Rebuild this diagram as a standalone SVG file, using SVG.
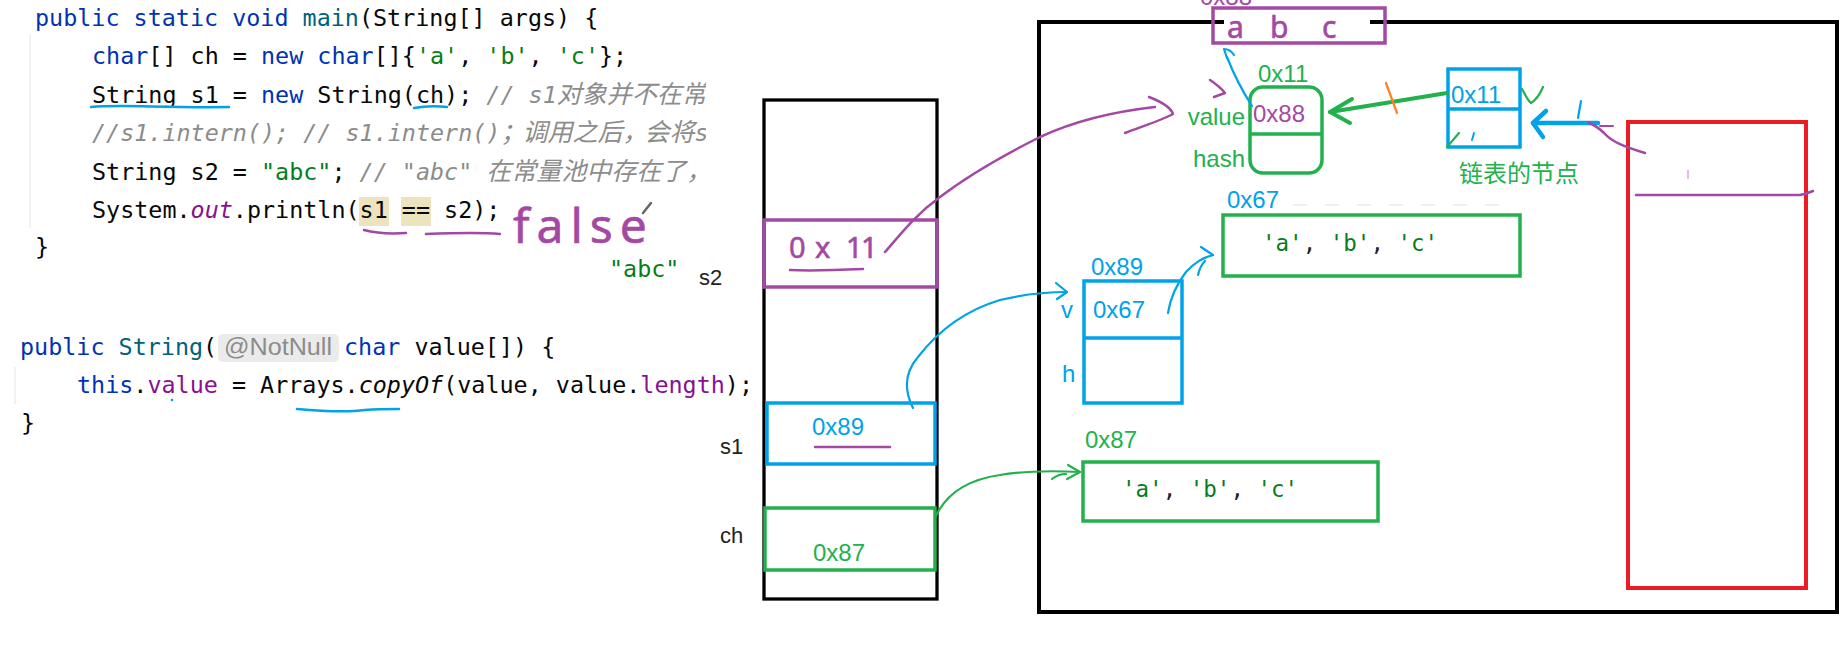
<svg xmlns="http://www.w3.org/2000/svg" width="1848" height="650" viewBox="0 0 1848 650">
  <defs>
    <clipPath id="codeClip">
      <rect x="0" y="0" width="706" height="300"/>
    </clipPath>
  </defs>
  <style>
    .code { font-family: "DejaVu Sans Mono", "Noto Sans CJK SC", monospace; font-size: 23.4px; fill: #080808; white-space: pre; }
    .cjk { font-family: "Noto Sans CJK SC", sans-serif; font-size: 25px; }
    .pn { font-family: "Noto Sans CJK SC", sans-serif; font-size: 25px; letter-spacing: -3px; }
    .kw { fill: #0033b3; }
    .fn { fill: #00627a; }
    .str { fill: #067d17; }
    .cm { fill: #8c8c8c; font-style: italic; }
    .fld { fill: #871094; }
    .sfld { fill: #871094; font-style: italic; }
    .it { font-style: italic; }
    .lbl { font-family: "Liberation Sans", "Noto Sans", sans-serif; font-size: 24px; }
    .name { font-family: "Liberation Sans", sans-serif; font-size: 22px; fill: #222; }
    .arr { font-family: "DejaVu Sans Mono", monospace; font-size: 22.5px; fill: #222; white-space: pre; }
    .hand { font-family: "Noto Sans", sans-serif; font-weight: 400; fill: #a349a4; stroke: #a349a4; stroke-width: 0.6; }
    .purple { stroke: #a349a4; }
    .blue { stroke: #00a2e8; }
    .green { stroke: #22b14c; }
    .box { fill: none; stroke-width: 3.5; }
    .ink { fill: none; stroke-linecap: round; stroke-linejoin: round; }
  </style>

  <rect width="1848" height="650" fill="#ffffff"/>

  <!-- source code: main() -->
  <g id="code-main">
    <line x1="30" y1="34" x2="30" y2="228" stroke="#eeeeee" stroke-width="1.5"/>
    <rect x="359" y="197" width="30" height="29" fill="#ede3bd"/>
    <rect x="401" y="197" width="30" height="29" fill="#ede3bd"/>
    <g clip-path="url(#codeClip)">
      <text class="code" x="35" y="26"><tspan class="kw">public static void </tspan><tspan class="fn">main</tspan>(String[] args) {</text>
      <text class="code" x="92" y="64"><tspan class="kw">char</tspan>[] ch = <tspan class="kw">new char</tspan>[]{<tspan class="str">'a'</tspan>, <tspan class="str">'b'</tspan>, <tspan class="str">'c'</tspan>};</text>
      <text class="code" x="92" y="103">String s1 = <tspan class="kw">new</tspan> String(ch); <tspan class="cm">// s1<tspan class="cjk">对象并不在常量池中</tspan></tspan></text>
      <text class="code cm" x="92" y="141">//s1.intern(); // s1.intern()<tspan class="pn">；</tspan><tspan class="cjk">调用之后</tspan><tspan class="pn">，</tspan><tspan class="cjk">会将</tspan>s1</text>
      <text class="code" x="92" y="180">String s2 = <tspan class="str">"abc"</tspan>; <tspan class="cm">// "abc" <tspan class="cjk">在常量池中存在了</tspan><tspan class="pn">，</tspan>s2</tspan></text>
      <text class="code" x="92" y="218">System.<tspan class="sfld">out</tspan>.println(s1 == s2);</text>
      <text class="code" x="35" y="255">}</text>
    </g>
    <text class="code str" x="609" y="277" font-size="22">"abc"</text>
    <!-- pen cursor -->
    <path d="M643,213 L651,203" stroke="#666" stroke-width="2.5" stroke-linecap="round"/>
  </g>

  <!-- source code: String(char[]) constructor -->
  <g id="code-ctor">
    <line x1="15" y1="367" x2="15" y2="404" stroke="#eeeeee" stroke-width="1.5"/>
    <text class="code" x="20" y="355"><tspan class="kw">public </tspan><tspan class="fn">String</tspan>(</text>
    <rect x="218" y="334" width="121" height="28" rx="5" fill="#ebebeb"/>
    <text x="224" y="355" font-family="Liberation Sans, sans-serif" font-size="23" fill="#8c8c8c" textLength="108" lengthAdjust="spacingAndGlyphs">@NotNull</text>
    <text class="code" x="344" y="355"><tspan class="kw">char</tspan> value[]) {</text>
    <text class="code" x="77" y="393"><tspan class="kw">this</tspan>.<tspan class="fld">value</tspan> = Arrays.<tspan class="it">copyOf</tspan>(value, value.<tspan class="fld">length</tspan>);</text>
    <text class="code" x="21" y="431">}</text>
  </g>

  <!-- handwritten notes on the code -->
  <g id="code-notes" class="ink" stroke-width="2.5">
    <path class="blue" d="M91,107 C120,104 160,108 229,107"/>
    <path class="blue" d="M414,108 Q430,105 447,107"/>
    <path class="blue" d="M297,409 C320,411 350,412 365,410 C378,409 390,409 399,409"/>
    <circle cx="172" cy="400" r="1.3" fill="#00a2e8" stroke="none"/>
    <path class="purple" d="M364,230 C375,233 390,234 406,233"/>
    <path class="purple" d="M426,234 C450,233 480,232 500,234"/>
    <text class="hand" x="513" y="243" font-size="48" letter-spacing="7">false</text>
  </g>

  <!-- stack frame -->
  <g id="stack">
    <rect x="764" y="100" width="173" height="499" fill="none" stroke="#000" stroke-width="3.3"/>
    <text class="name" x="699" y="285">s2</text>
    <text class="name" x="720" y="454">s1</text>
    <text class="name" x="720" y="543">ch</text>
  </g>

  <g id="slot-s2">
    <rect class="box purple" x="764" y="220" width="173" height="67"/>
    <text class="hand" y="258" font-size="29"><tspan x="789">0</tspan><tspan x="815">x</tspan><tspan x="846">1</tspan><tspan x="861">1</tspan></text>
    <path class="ink purple" stroke-width="2.5" d="M790,270 C810,271 840,270 863,269"/>
  </g>

  <g id="slot-s1">
    <rect class="box blue" x="767" y="403" width="168" height="61"/>
    <text class="lbl" x="812" y="435" fill="#00a2e8">0x89</text>
    <path class="ink purple" stroke-width="2.5" d="M815,447 L890,447"/>
  </g>

  <g id="slot-ch">
    <rect class="box green" x="765" y="508" width="170" height="62"/>
    <text class="lbl" x="813" y="561" fill="#22b14c">0x87</text>
  </g>

  <!-- heap area -->
  <g id="heap">
    <path d="M1224,22 L1039,22 L1039,612 L1837,612 L1837,22 L1370,22" fill="none" stroke="#000" stroke-width="4"/>
  </g>

  <g id="pool-abc">
    <text class="lbl" x="1200" y="5" font-size="22" fill="#a349a4">0x88</text>
    <rect class="box purple" x="1213" y="8" width="172" height="35"/>
    <text class="hand" y="38" font-size="30"><tspan x="1227">a</tspan><tspan x="1270">b</tspan><tspan x="1322">c</tspan></text>
  </g>

  <g id="string-0x11">
    <text class="lbl" x="1258" y="82" fill="#22b14c">0x11</text>
    <rect class="box green" x="1250" y="87" width="72" height="86" rx="13"/>
    <line x1="1250" y1="134" x2="1322" y2="134" stroke="#22b14c" stroke-width="3.5"/>
    <text class="lbl" x="1253" y="122" fill="#a349a4">0x88</text>
    <text class="lbl" x="1245" y="125" fill="#22b14c" text-anchor="end">value</text>
    <text class="lbl" x="1245" y="167" fill="#22b14c" text-anchor="end">hash</text>
  </g>

  <g id="list-node">
    <rect class="box blue" x="1448" y="69" width="72" height="78"/>
    <line x1="1448" y1="109" x2="1520" y2="109" stroke="#00a2e8" stroke-width="3.5"/>
    <text class="lbl" x="1451" y="103" fill="#00a2e8">0x11</text>
    <text x="1459" y="182" font-family="Noto Sans CJK SC, sans-serif" font-size="24" fill="#22b14c">链表的节点</text>
  </g>

  <g id="string-0x89">
    <text class="lbl" x="1091" y="275" fill="#00a2e8">0x89</text>
    <rect class="box blue" x="1084" y="281" width="98" height="122"/>
    <line x1="1084" y1="338" x2="1182" y2="338" stroke="#00a2e8" stroke-width="3.5"/>
    <text class="lbl" x="1093" y="318" fill="#00a2e8">0x67</text>
    <text class="lbl" x="1061" y="318" fill="#00a2e8">v</text>
    <text class="lbl" x="1062" y="382" fill="#00a2e8">h</text>
  </g>

  <g id="array-0x67">
    <text class="lbl" x="1227" y="208" fill="#00a2e8">0x67</text>
    <path d="M1293,205 H1500" stroke="#ececec" stroke-width="1.5" stroke-dasharray="14 18"/>
    <rect class="box green" x="1223" y="215" width="297" height="61"/>
    <text class="arr" x="1262" y="251"><tspan class="str">'a'</tspan>, <tspan class="str">'b'</tspan>, <tspan class="str">'c'</tspan></text>
  </g>

  <g id="array-0x87">
    <text class="lbl" x="1085" y="448" fill="#22b14c">0x87</text>
    <rect class="box green" x="1083" y="462" width="295" height="59"/>
    <text class="arr" x="1122" y="497"><tspan class="str">'a'</tspan>, <tspan class="str">'b'</tspan>, <tspan class="str">'c'</tspan></text>
  </g>

  <g id="table">
    <rect x="1628" y="122" width="178" height="466" fill="none" stroke="#ed1c24" stroke-width="4"/>
    <path class="ink purple" stroke-width="2.5" d="M1636,195 L1800,195 Q1806,194 1813,191"/>
    <path d="M1688,170 L1688,179" stroke="#dda6dd" stroke-width="1.5"/>
  </g>

  <!-- references between stack and heap -->
  <g id="connectors" class="ink">
    <!-- s2 -> value field -->
    <path class="purple" stroke-width="2.5" d="M885,252 C900,235 915,215 940,197 C965,178 1000,157 1040,137 C1070,123 1110,112 1155,107"/>
    <path class="purple" stroke-width="2.5" d="M1149,97 C1162,102 1171,108 1173,114 C1160,121 1140,127 1125,133"/>
    <path class="purple" stroke-width="2.5" d="M1210,80 C1216,84 1221,88 1225,93 L1214,97"/>
    <!-- value -> pooled chars -->
    <path class="blue" stroke-width="2.2" d="M1252,106 C1243,92 1234,75 1227,57"/>
    <path class="blue" stroke-width="2.2" d="M1227,58 L1224,49 Q1230,49 1234,55"/>
    <!-- list node -> String 0x11 -->
    <path class="green" stroke-width="4" d="M1447,93 L1330,112"/>
    <path class="green" stroke-width="4" d="M1352,99 L1330,112 L1350,123"/>
    <path stroke="#ff7f27" stroke-width="2.2" d="M1386,83 L1397,113"/>
    <path class="green" stroke-width="2.2" d="M1522,89 C1526,96 1528,101 1531,103 C1536,100 1540,94 1543,87"/>
    <path class="green" stroke-width="2.2" d="M1447,147 L1459,133"/>
    <path class="blue" stroke-width="2" d="M1474,133 L1472,140"/>
    <!-- table bucket -> list node -->
    <path class="blue" stroke-width="4.5" d="M1598,123 L1533,123"/>
    <path class="blue" stroke-width="4.5" d="M1546,111 L1533,123 L1543,137"/>
    <path class="blue" stroke-width="2.2" d="M1581,101 L1578,118"/>
    <path class="purple" stroke-width="2.5" d="M1645,153 C1625,147 1612,142 1604,133 C1599,128 1594,125 1589,123"/>
    <path class="purple" stroke-width="2" d="M1600,126 L1613,126"/>
    <!-- s1 -> String 0x89 -->
    <path class="blue" stroke-width="2.2" d="M913,408 C904,390 905,372 918,357 C935,335 960,312 1000,300 C1025,294 1050,292 1067,292"/>
    <path class="blue" stroke-width="2.2" d="M1056,283 L1067,292 L1057,299"/>
    <!-- value field -> array 0x67 -->
    <path class="blue" stroke-width="2.2" d="M1168,313 C1170,300 1176,285 1186,272 C1195,262 1205,257 1213,255"/>
    <path class="blue" stroke-width="2.2" d="M1201,247 L1213,255 M1198,275 Q1200,266 1205,261"/>
    <!-- ch -> array 0x87 -->
    <path class="green" stroke-width="2.2" d="M935,518 C945,495 965,480 1000,475 C1030,470 1060,471 1080,472"/>
    <path class="green" stroke-width="2.2" d="M1068,465 L1080,472 L1067,479 M1052,479 Q1058,474 1066,474"/>
  </g>
</svg>
